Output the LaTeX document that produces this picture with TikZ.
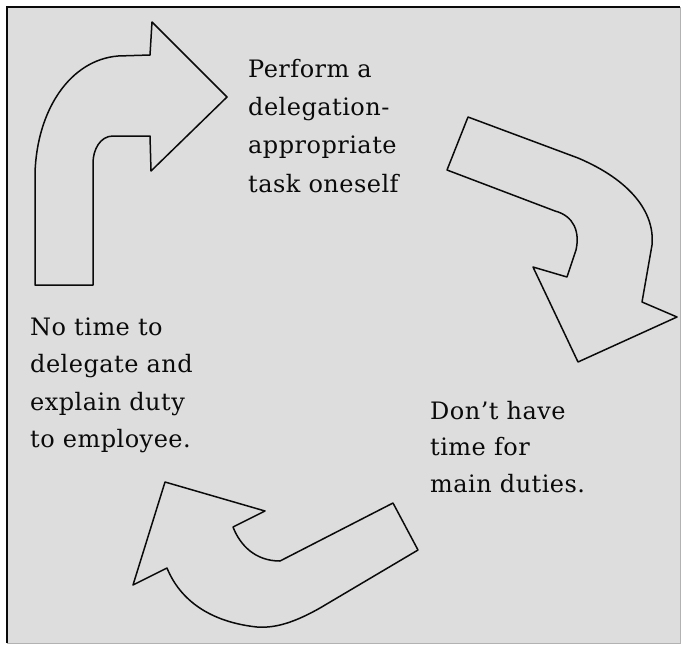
\documentclass[tikz,border=0pt]{standalone}
\usepackage{fontspec}
\setmainfont{DejaVu Serif}[LetterSpace=2]
\definecolor{bg}{RGB}{221,221,221}
\definecolor{ink}{RGB}{10,10,10}
\tikzset{
  arrowshape/.style={draw=ink, line width=1.5pt, fill=bg, line join=round},
  lbl/.style={anchor=base west, inner sep=0pt, text=ink, font=\fontsize{24}{38}\selectfont}
}
\begin{document}
\begin{tikzpicture}[x=1pt,y=-1pt]
\useasboundingbox (0,0) rectangle (684,646);
\fill[white] (0,0) rectangle (684,646);
\fill[bg] (7,7) rectangle (680,643);
\draw[ink, line width=1.2pt] (7,643) -- (7,7) -- (680,7);
\draw[gray!60, line width=0.8pt] (680,7) -- (680,643) -- (7,643);
% arrow 1 (top-left)
\draw[arrowshape] (35,285) -- (93,285) -- (93,163)
  .. controls (93,150) and (100,136) .. (113,136)
  -- (150,136) -- (151,171) -- (227,97) -- (152,22) -- (150,55) -- (118,56)
  .. controls (70,60) and (37,110) .. (35,173) -- cycle;
% arrow 2 (right)
\draw[arrowshape] (468,117) -- (578,158)
  .. controls (630,180) and (655,212) .. (652,245)
  -- (642,302) -- (677,317) -- (578,362) -- (533,267) -- (567,277) -- (576,250)
  .. controls (580,232) and (574,216) .. (555,211)
  -- (447,170) -- cycle;
% arrow 3 (bottom)
\draw[arrowshape] (165,482) -- (265,511) -- (233,527)
  .. controls (240,545) and (255,561) .. (280,561)
  -- (393,503) -- (418,550) -- (320,608)
  .. controls (290,625) and (272,628) .. (257,627)
  .. controls (210,622) and (180,600) .. (167,568)
  -- (133,585) -- cycle;
% texts
\node[lbl] (t1a) at (248,77) {Perform a};
\node[lbl] (t1b) at (248,115) {delegation-};
\node[lbl] (t1c) at (248,153) {appropriate};
\node[lbl] (t1d) at (248,192) {task oneself};
\node[lbl] (t2a) at (30,335) {No time to};
\node[lbl] (t2b) at (30,372) {delegate and};
\node[lbl] (t2c) at (30,410) {explain duty};
\node[lbl] (t2d) at (30,447) {to employee.};
\node[lbl] (t3a) at (430,419) {Don’t have};
\node[lbl] (t3b) at (430,455) {time for};
\node[lbl] (t3c) at (430,492) {main duties.};
\end{tikzpicture}
\end{document}
